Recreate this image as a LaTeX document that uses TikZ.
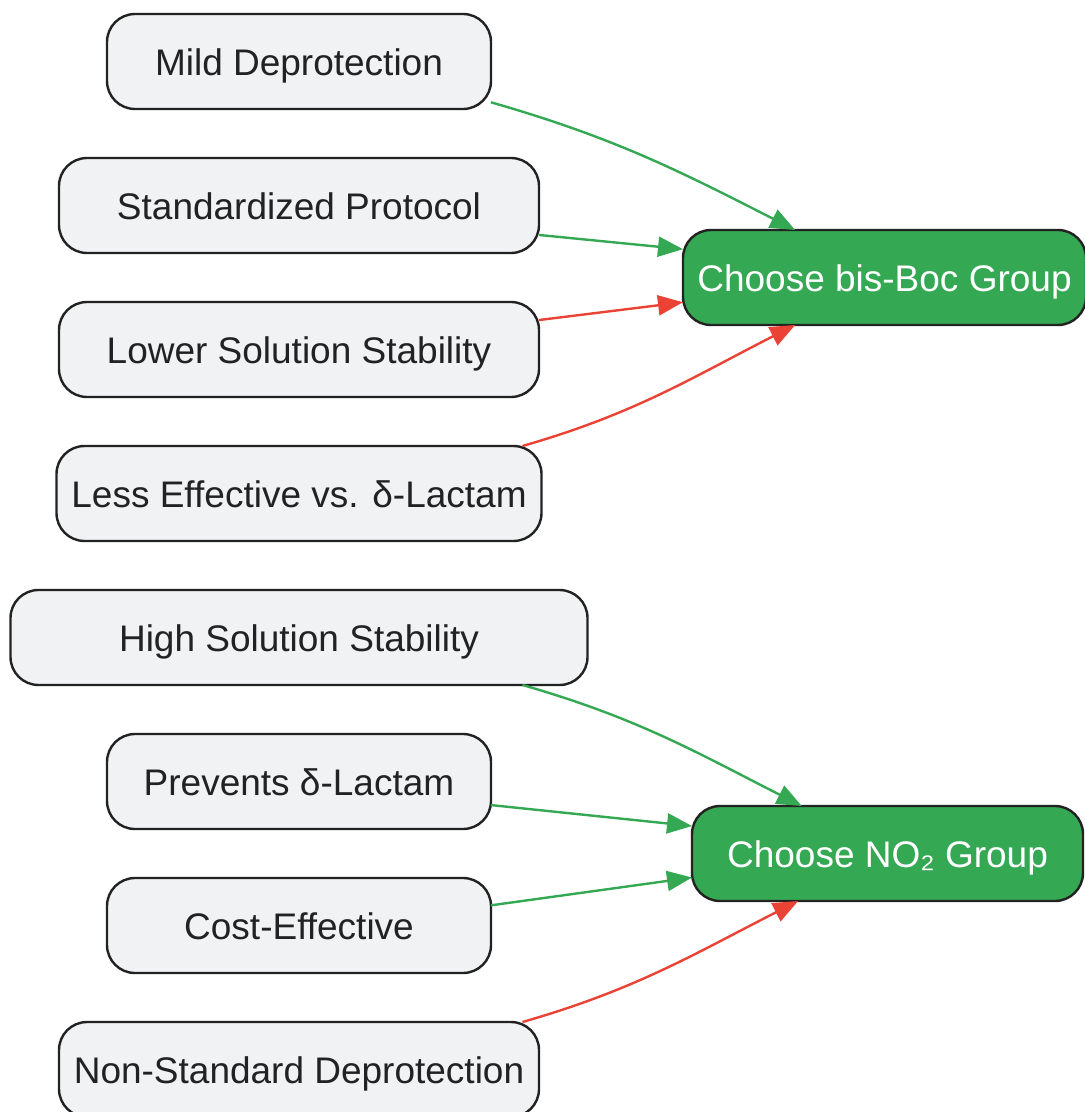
\documentclass[tikz,border=0pt]{standalone}
\usepackage{fontspec}
\setmainfont{Liberation Sans}
\usepackage{tikz}
\usetikzlibrary{arrows.meta, positioning}
\definecolor{boxgrey}{HTML}{F1F2F4}
\definecolor{edgedark}{HTML}{222222}
\definecolor{textdark}{HTML}{222222}
\definecolor{progreen}{HTML}{34A853}
\definecolor{conred}{HTML}{EA4335}

\begin{document}
\begin{tikzpicture}[
    x=0.5pt, y=0.5pt,
    node distance=24.5pt,
    every node/.style={font=\fontsize{18.5}{22}\selectfont},
    reason/.style={
        rectangle,
        rounded corners=14pt,
        draw=edgedark,
        fill=boxgrey,
        line width=1.2pt,
        outer sep=0pt,
        text=textdark,
        minimum height=47.5pt,
        text height=14.4pt,
        text depth=0pt,
        inner xsep=4pt,
        align=center
    },
    choice/.style={
        reason,
        fill=progreen,
        text=white
    },
    pro/.style={line width=1.2pt, -{Triangle[length=12.5pt, width=10pt]}, color=progreen},
    con/.style={line width=1.2pt, -{Triangle[length=12.5pt, width=10pt]}, color=conred}
]
\useasboundingbox (0,0) rectangle (1084,-1112);

\node[reason, minimum width=192pt] (mild) at (299,-61.5) {Mild Deprotection};
\node[reason, minimum width=240pt, below=of mild] (std) {Standardized Protocol};
\node[reason, minimum width=240pt, below=of std] (lower) {Lower Solution Stability};
\node[reason, minimum width=242.5pt, below=of lower] (less) {Less Effective vs. δ-Lactam};
\node[reason, minimum width=288.5pt, below=of less] (high) {High Solution Stability};
\node[reason, minimum width=192pt, below=of high] (prevents) {Prevents δ-Lactam};
\node[reason, minimum width=192pt, below=of prevents] (cost) {Cost-Effective};
\node[reason, minimum width=240pt, below=of cost] (nonstd) {Non-Standard Deprotection};

\node[choice, minimum width=201.5pt] (boc) at (884.5,-277.5) {Choose bis-Boc Group};
\node[choice, minimum width=195.5pt] (nitro) at (887.5,-853.5) {Choose NO₂ Group};

\draw[pro] (mild.-12) to[out=-16, in=153] (boc.152);
\draw[pro] (std.-7) -- (boc.172.5);
\draw[con] (lower.7) -- (boc.187.2);
\draw[con] (less.12.3) to[out=16, in=207] (boc.208);

\draw[pro] (high.-12.6) to[out=-16, in=153] (nitro.151.8);
\draw[pro] (prevents.-7) -- (nitro.172.9);
\draw[pro] (cost.6.7) -- (nitro.187.1);
\draw[con] (nonstd.12.6) to[out=16, in=207] (nitro.208.2);

\end{tikzpicture}
\end{document}
